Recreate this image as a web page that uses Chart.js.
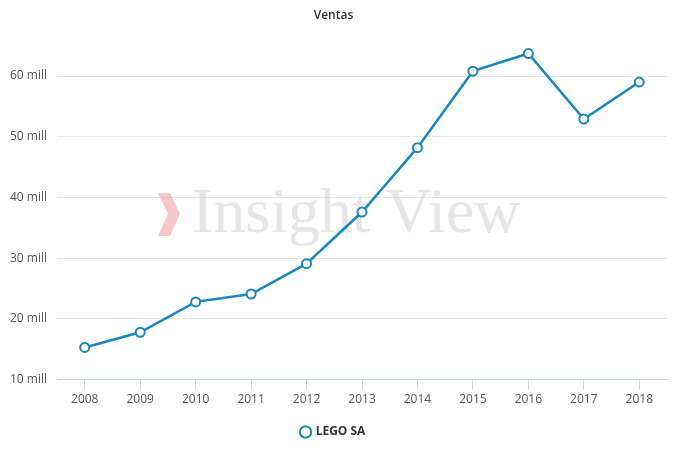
<!DOCTYPE html>
<html><head><meta charset="utf-8">
<script src="https://cdn.jsdelivr.net/npm/chart.js@4"></script>
<style>html,body{margin:0;padding:0;background:#fff}#w{width:675px;height:450px}</style>
</head><body><div id="w"><canvas id="c"></canvas></div>
<script>
const years = ['2008','2009','2010','2011','2012','2013','2014','2015','2016','2017','2018'];
const ventas = [15.3, 17.8, 22.8, 24.1, 29.1, 37.6, 48.2, 60.8, 63.7, 52.9, 59.0];
const seriesName = 'LEGO SA';
const watermark = {
  id:'wm',
  beforeDatasetsDraw(chart){
    const c=chart.ctx; c.save();
    c.fillStyle='rgba(200,200,200,0.45)';
    c.font='64px "Liberation Serif", serif';
    c.textBaseline='middle';
    c.fillText('Insight View',192,215);
    c.fillStyle='rgba(240,130,140,0.45)';
    c.beginPath();c.moveTo(158,193);c.lineTo(170,193);c.lineTo(180,214);c.lineTo(170,236);c.lineTo(158,236);c.lineTo(168,214);c.closePath();c.fill();
    c.restore();
  }
};
new Chart(document.getElementById('c'),{
  type:'line',
  data:{labels:years,datasets:[{label:seriesName,data:ventas,borderColor:'#1a86c0',backgroundColor:'#fff',
    borderWidth:2.5,pointRadius:4.5,pointBorderWidth:2,pointBackgroundColor:'#fff',pointBorderColor:'#1a86c0',tension:0}]},
  options:{responsive:true,maintainAspectRatio:false,animation:false,
    layout:{padding:{left:0,right:8,top:0,bottom:2}},
    plugins:{
      title:{display:true,text:'Ventas',color:'#333',font:{family:'"Open Sans", sans-serif',size:12,weight:'600'},padding:{top:8,bottom:2}},
      legend:{position:'bottom',labels:{usePointStyle:true,pointStyle:'circle',boxWidth:8,boxHeight:8,color:'#333',
        font:{family:'"Open Sans", sans-serif',size:12,weight:'bold'},padding:16}}
    },
    scales:{
      x:{offset:true,grid:{display:true,drawOnChartArea:false,drawTicks:true,tickLength:10,color:'#ccd6eb'},
        border:{color:'#ccd6eb'},
        ticks:{color:'#555',font:{family:'"Open Sans", sans-serif',size:12}}},
      y:{min:10,max:68.5,grid:{color:(ctx)=>ctx.tick && ctx.tick.value>65?'rgba(0,0,0,0)':'#e6e6e6',drawTicks:false},
        border:{display:false},
        afterBuildTicks:(s)=>{s.ticks=[10,20,30,40,50,60].map(v=>({value:v}));},
        ticks:{stepSize:10,padding:10,color:'#555',font:{family:'"Open Sans", sans-serif',size:12},
          callback:v=>v+' mill'}}
    }
  },
  plugins:[watermark]
});
</script></body></html>
